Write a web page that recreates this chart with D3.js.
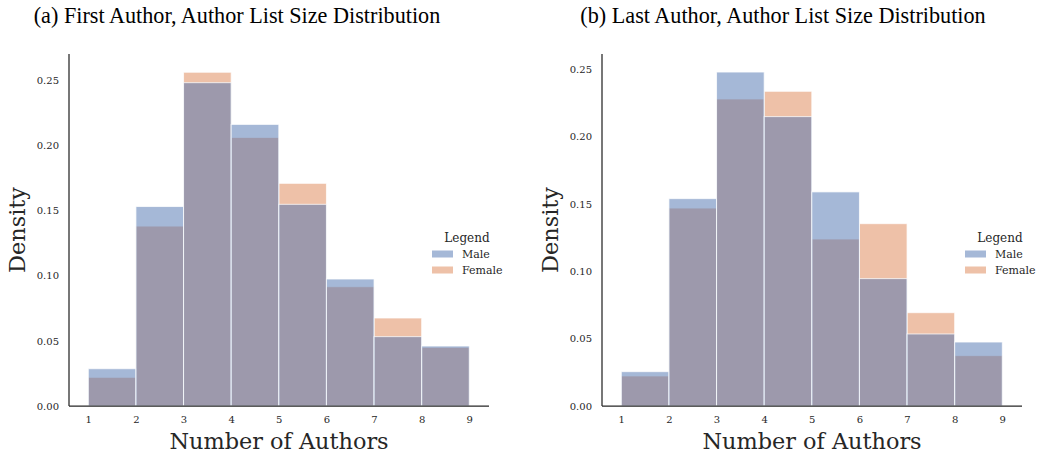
<!DOCTYPE html>
<html>
<head>
<meta charset="utf-8">
<script src="https://cdn.jsdelivr.net/npm/d3@7"></script>
<style>
  body { margin: 0; background: #fff; }
  svg text { fill: #262626; }
</style>
</head>
<body>
<svg id="chart" width="1038" height="455"></svg>
<script>
const binEdges = [1, 2, 3, 4, 5, 6, 7, 8, 9];
const yTicks = [0, 0.05, 0.10, 0.15, 0.20, 0.25];

const firstMale   = [0.0286, 0.153, 0.248, 0.216, 0.1547, 0.0974, 0.0532, 0.046];
const firstFemale = [0.022, 0.138, 0.256, 0.206, 0.1708, 0.0915, 0.0675, 0.045];
const lastMale    = [0.0255, 0.154, 0.248, 0.2149, 0.159, 0.0946, 0.0535, 0.0475];
const lastFemale  = [0.0223, 0.147, 0.228, 0.2337, 0.124, 0.1354, 0.0693, 0.0374];

const panels = [
  { title: "(a) First Author, Author List Size Distribution", male: firstMale, female: firstFemale,
    left: 69, right: 489, top: 54, bottom: 406, xMin: 88.3, xMax: 469.3, yMax: 0.27, titleX: 237, labelX: 17 },
  { title: "(b) Last Author, Author List Size Distribution", male: lastMale, female: lastFemale,
    left: 602, right: 1022, top: 54, bottom: 406, xMin: 621.3, xMax: 1002.3, yMax: 0.2614, titleX: 783, labelX: 550 }
];

const maleColor = "#4c72b0";
const femaleColor = "#dd8452";

const svg = d3.select("#chart");

panels.forEach(p => {
  const g = svg.append("g");

  const x = d3.scaleLinear().domain([1, 9]).range([p.xMin, p.xMax]);
  const y = d3.scaleLinear().domain([0, p.yMax]).range([p.bottom, p.top]);

  const bins = (vals) => vals.map((v, i) => ({ x0: binEdges[i], x1: binEdges[i + 1], v }));

  // female drawn first, male on top
  [[p.female, femaleColor], [p.male, maleColor]].forEach(([vals, col]) => {
    g.selectAll(null)
      .data(bins(vals))
      .enter()
      .append("rect")
      .attr("x", d => x(d.x0))
      .attr("y", d => y(d.v))
      .attr("width", d => x(d.x1) - x(d.x0))
      .attr("height", d => y(0) - y(d.v))
      .attr("fill", col)
      .attr("fill-opacity", 0.5)
      .attr("stroke", "#fff")
      .attr("stroke-opacity", 0.75)
      .attr("stroke-width", 1);
  });

  // axes
  const yAxis = g.append("g")
    .attr("transform", `translate(${p.left},0)`)
    .call(d3.axisLeft(y).tickValues(yTicks).tickFormat(d3.format(".2f")).tickSize(0).tickPadding(10));
  yAxis.select(".domain").remove();
  g.append("line")
    .attr("x1", p.left).attr("x2", p.left)
    .attr("y1", p.top).attr("y2", p.bottom)
    .attr("stroke", "#262626").attr("stroke-width", 1.25);

  const xAxis = g.append("g")
    .attr("transform", `translate(0,${p.bottom})`)
    .call(d3.axisBottom(x).tickValues(binEdges).tickFormat(d3.format("d")).tickSize(0).tickPadding(10));
  xAxis.select(".domain").remove();
  g.append("line")
    .attr("x1", p.left).attr("x2", p.right)
    .attr("y1", p.bottom).attr("y2", p.bottom)
    .attr("stroke", "#262626").attr("stroke-width", 1.25);

  g.selectAll(".tick text")
    .style("font-family", "DejaVu Serif")
    .style("font-size", "10px")
    .attr("fill", "#262626");

  // axis labels
  g.append("text")
    .attr("x", (p.left + p.right) / 2)
    .attr("y", 449)
    .attr("text-anchor", "middle")
    .style("font-family", "DejaVu Serif")
    .style("font-size", "22.4px")
    .text("Number of Authors");

  g.append("text")
    .attr("transform", `translate(${p.labelX + 8},230) rotate(-90)`)
    .attr("text-anchor", "middle")
    .style("font-family", "DejaVu Serif")
    .style("font-size", "22.4px")
    .text("Density");

  // title (condensed serif)
  g.append("text")
    .attr("transform", `translate(${p.titleX},23) scale(0.925,1)`)
    .attr("text-anchor", "middle")
    .style("font-family", "Liberation Serif")
    .style("font-size", "24px")
    .attr("fill", "#000")
    .style("fill", "#000")
    .text(p.title);

  // legend
  const lx = p.right - 57;
  const lg = g.append("g").attr("transform", `translate(${lx},0)`);
  lg.append("text")
    .attr("x", 35).attr("y", 242)
    .attr("text-anchor", "middle")
    .style("font-family", "DejaVu Serif")
    .style("font-size", "12px")
    .text("Legend");
  [["Male", maleColor, 254], ["Female", femaleColor, 270]].forEach(([name, col, cy]) => {
    lg.append("rect")
      .attr("x", 0).attr("y", cy - 3.5)
      .attr("width", 21).attr("height", 7)
      .attr("fill", col).attr("fill-opacity", 0.5);
    lg.append("text")
      .attr("x", 30).attr("y", cy + 4)
      .style("font-family", "DejaVu Serif")
      .style("font-size", "11px")
      .text(name);
  });
});
</script>
</body>
</html>
